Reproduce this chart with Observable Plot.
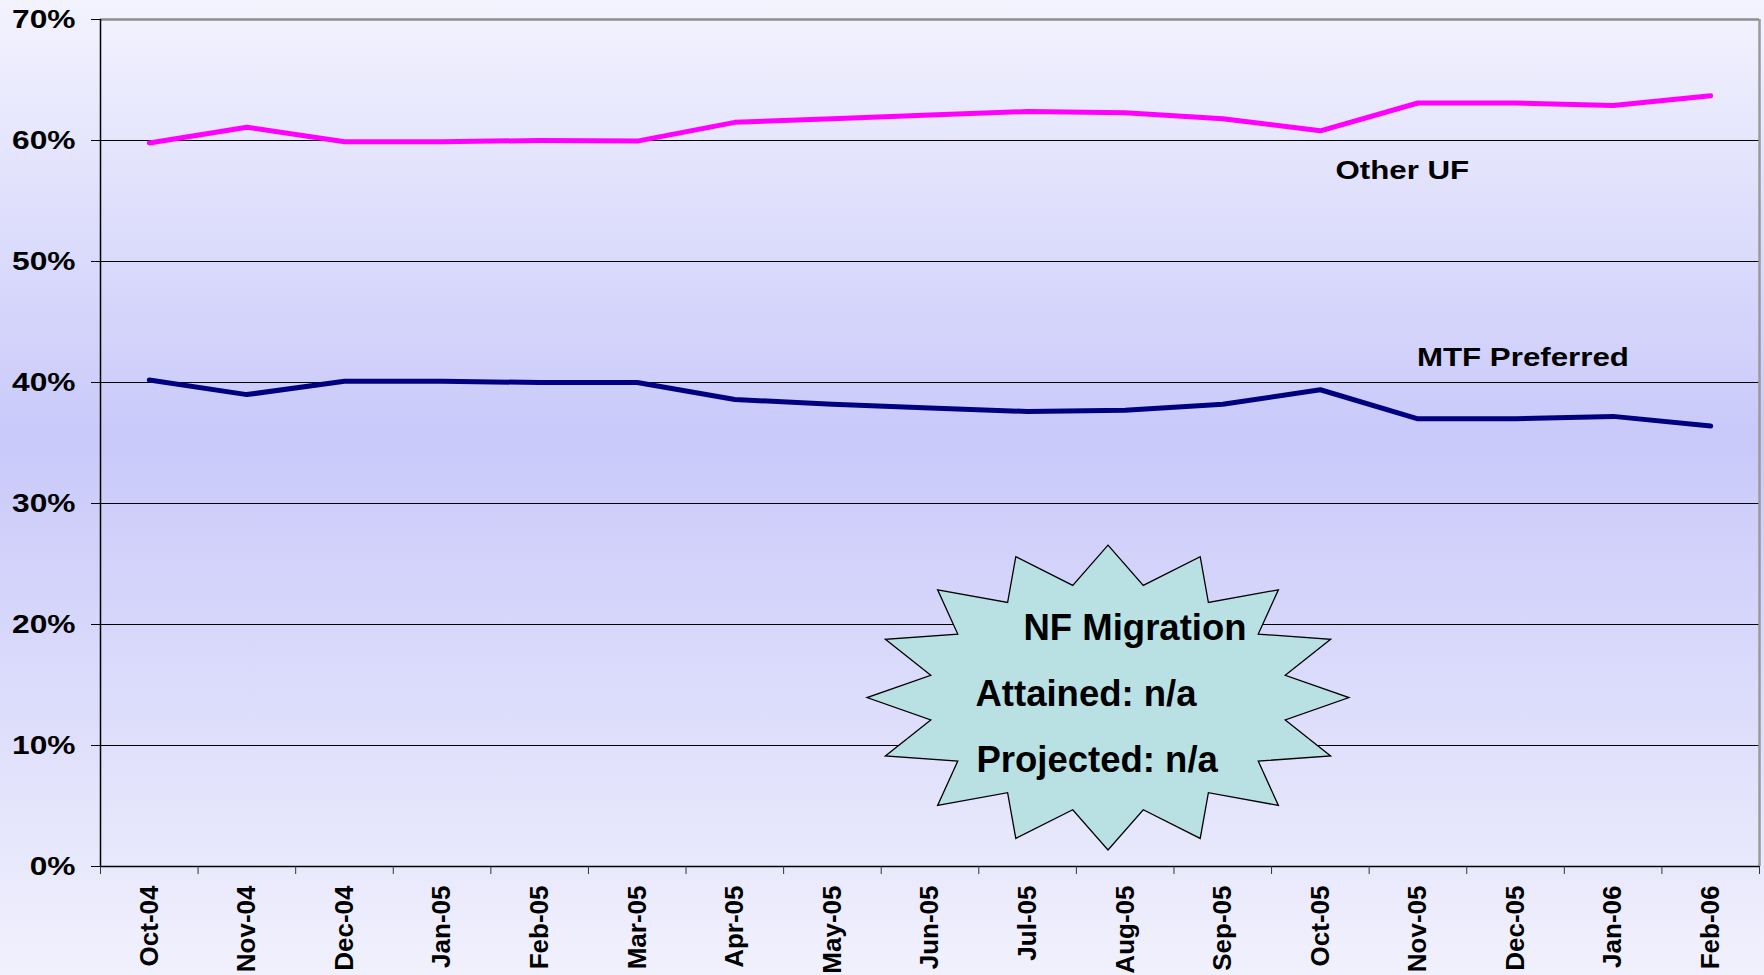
<!DOCTYPE html>
<html><head><meta charset="utf-8">
<script src="https://cdn.jsdelivr.net/npm/d3@7"></script>
<script src="https://cdn.jsdelivr.net/npm/@observablehq/plot@0.6"></script>
<style>
html,body{margin:0;padding:0;}
body{width:1764px;height:975px;overflow:hidden;background:linear-gradient(to bottom,#f3f3fe 0%,#c9c9fa 45%,#f1f1fd 100%);font-family:"Liberation Sans",Arial,sans-serif;}
#chart svg{display:block;background:transparent;}
</style></head><body><div id="chart"></div>
<script>
const months = ["Oct-04","Nov-04","Dec-04","Jan-05","Feb-05","Mar-05","Apr-05","May-05","Jun-05","Jul-05","Aug-05","Sep-05","Oct-05","Nov-05","Dec-05","Jan-06","Feb-06"];
const otherUF = [59.8,61.1,59.9,59.9,60.0,59.95,61.5,61.8,62.1,62.4,62.3,61.8,60.8,63.1,63.1,62.9,63.7];
const mtfPreferred = [40.2,39.0,40.1,40.1,40.0,40.0,38.6,38.2,37.9,37.6,37.7,38.2,39.4,37.0,37.0,37.2,36.4];
const yTicks = [0,10,20,30,40,50,60,70];
const seriesNames = ["Other UF","MTF Preferred"];
const seriesColors = ["#ff00ff","#000080"];
const calloutLines = ["NF Migration","Attained: n/a","Projected: n/a"];

const data = months.flatMap((m,i)=>[
  {i, month:m, series:seriesNames[0], value:otherUF[i]},
  {i, month:m, series:seriesNames[1], value:mtfPreferred[i]}
]);

// series label anchors (data space)
const seriesLabels = [
  {name: seriesNames[0], x: 12.155, y: 57.5},
  {name: seriesNames[1], x: 12.99, y: 42.05}
];

// callout starburst (annotation, data space)
const star = {cx: 9.824, cy: 13.96, rx: 2.469, ry: 12.6, inner: 0.75, points: 16};
const starPath = d3.range(star.points*2).map(k=>{
  const a = Math.PI/2 - k*Math.PI/star.points;
  const r = k%2===0 ? 1 : star.inner;
  return {x: star.cx + r*star.rx*Math.cos(a), y: star.cy + r*star.ry*Math.sin(a)};
});
const calloutText = [
  {t: calloutLines[0], x: 8.958, y: 19.7},
  {t: calloutLines[1], x: 8.466, y: 14.25},
  {t: calloutLines[2], x: 8.476, y: 8.8}
];

const boundaries = d3.range(-0.5, months.length, 1);

const chart = Plot.plot({
  width: 1764,
  height: 975,
  marginLeft: 100,
  marginRight: 5,
  marginTop: 19,
  marginBottom: 109,
  style: {fontFamily: '"Liberation Sans", Arial, sans-serif', background: "transparent", color: "black", overflow: "visible"},
  x: {type: "linear", domain: [-0.5, months.length - 0.5]},
  y: {domain: [0, 70]},
  marks: [
    Plot.ruleY(yTicks.filter(d=>d>0 && d<70), {stroke: "black", strokeWidth: 1}),
    Plot.ruleY([70], {stroke: "#8e8e8e", strokeWidth: 2.5}),
    Plot.ruleX([months.length - 0.5], {stroke: "#9a9a9a", strokeWidth: 2.5}),
    Plot.ruleX([-0.5], {stroke: "black", strokeWidth: 1.5}),
    Plot.ruleY([0], {stroke: "black", strokeWidth: 1.5}),
    Plot.axisY({ticks: yTicks, tickSize: 9, tickPadding: 16, tickFormat: d => d + "%", fontSize: 26, fontWeight: "bold", stroke: "black", fill: "black"}),
    Plot.axisX({ticks: boundaries, tickSize: 8, tickFormat: () => "", stroke: "#333"}),
    Plot.axisX({ticks: d3.range(months.length), tickSize: 0, tickPadding: 19, tickRotate: -90, tickFormat: i => months[i], fontSize: 26, fontWeight: "bold", fill: "black"}),
    Plot.line(data, {x: "i", y: "value", z: "series", stroke: d => seriesColors[seriesNames.indexOf(d.series)], strokeWidth: 5, strokeLinecap: "round", strokeLinejoin: "round"}),
    Plot.text(seriesLabels, {x: "x", y: "y", text: "name", textAnchor: "start", fontSize: 25, fontWeight: "bold", fill: "black"}),
    Plot.line(starPath, {x: "x", y: "y", curve: "linear-closed", fill: "#b9e1e3", stroke: "black", strokeWidth: 1.3, strokeLinejoin: "miter", strokeMiterlimit: 20}),
    Plot.text(calloutText, {x: "x", y: "y", text: "t", textAnchor: "start", fontSize: 36.5, fontWeight: "bold", fill: "black"})
  ]
});
document.getElementById("chart").appendChild(chart);

// widen glyphs like the original slide rendering
const yLabelSet = new Set(yTicks.map(d => d + "%"));
const seriesSet = new Set(seriesNames);
chart.querySelectorAll("text").forEach(el => {
  const s = el.textContent.trim();
  let f = 1;
  if (yLabelSet.has(s)) f = 1.22;
  else if (seriesSet.has(s)) f = 1.25;
  if (f !== 1) {
    const L = el.getComputedTextLength();
    if (L > 0) {
      el.setAttribute("textLength", (L*f).toFixed(1));
      el.setAttribute("lengthAdjust", "spacingAndGlyphs");
    }
  }
});
</script></body></html>
